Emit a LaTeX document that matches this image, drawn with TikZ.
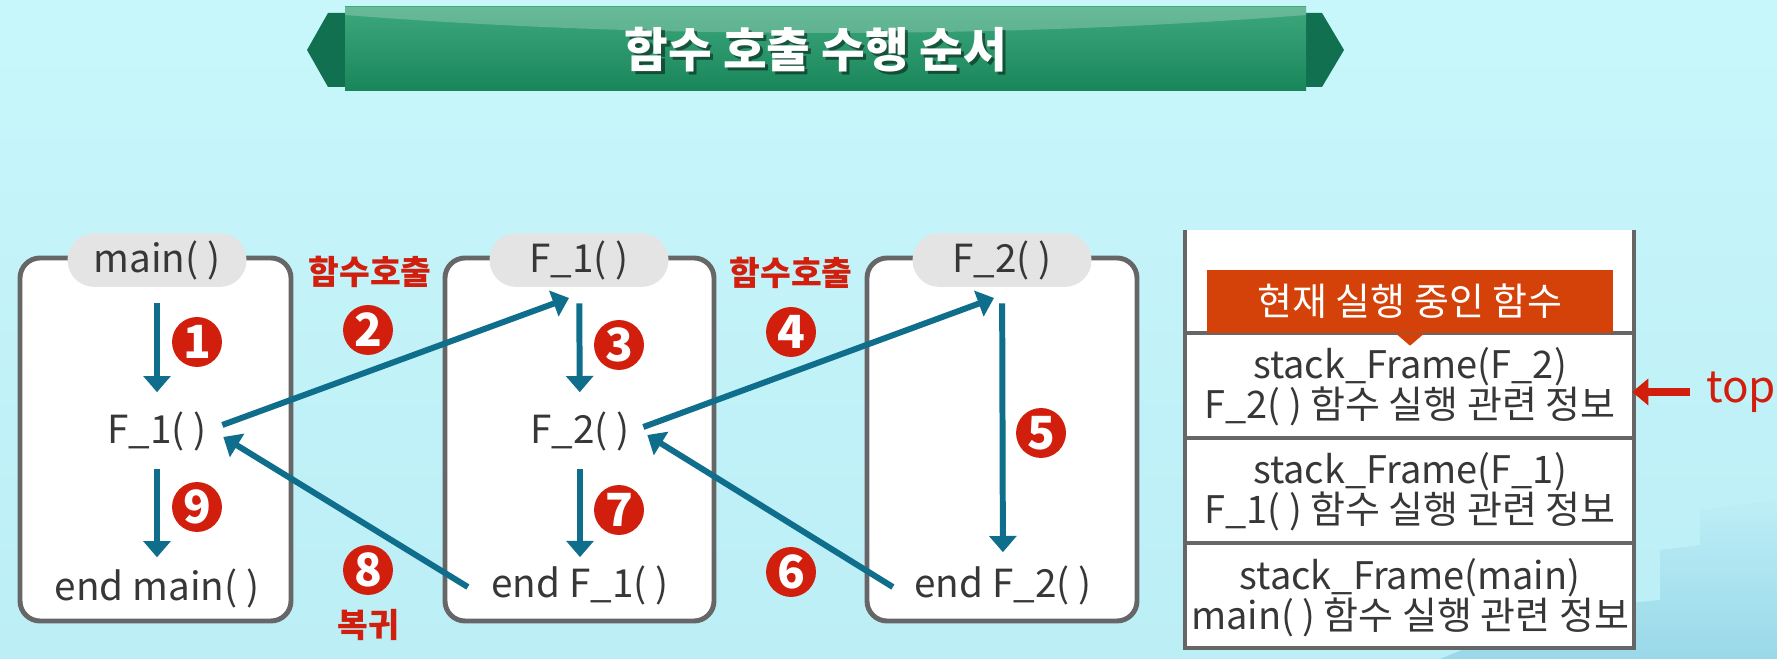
\documentclass[tikz,border=0pt]{standalone}
\usepackage{fontspec}
\setmainfont{Noto Sans CJK KR}
\usetikzlibrary{arrows.meta,calc}
\definecolor{callblue}{RGB}{14,110,140}
\definecolor{stepred}{RGB}{210,30,12}
\definecolor{framegray}{RGB}{102,102,102}
\definecolor{headgray}{RGB}{228,228,228}
\definecolor{textgray}{RGB}{55,55,55}
\definecolor{labelorange}{RGB}{212,66,10}
\definecolor{bannergreen}{RGB}{28,152,102}
\definecolor{bannerdark}{RGB}{16,112,80}
\definecolor{skycyan}{RGB}{200,247,251}
\definecolor{skyblue}{RGB}{188,238,246}
\definecolor{skydeep}{RGB}{140,208,228}

\begin{document}
\begin{tikzpicture}[x=0.01cm, y=-0.01cm,
    funcbox/.style={draw=framegray, line width=1.4pt, fill=white, rounded corners=5.7pt},
    headpill/.style={fill=headgray, rounded corners=7.6pt, minimum width=50.9pt, minimum height=15.3pt,
      inner sep=0pt, text=textgray, font=\fontsize{11}{13}\selectfont},
    functext/.style={text=textgray, inner sep=0pt, text height=8.5pt, text depth=2.5pt,
      font=\fontsize{11}{13}\selectfont},
    flow/.style={draw=callblue, line width=1.7pt, -{Triangle[length=4.6pt,width=7.6pt]}},
    numdot/.style={circle, fill=stepred, text=white, inner sep=0pt, minimum size=14.2pt,
      font=\bfseries\fontsize{13}{13}\selectfont},
    calllabel/.style={text=stepred, font=\bfseries\fontsize{9.5}{11}\selectfont},
    stackline/.style={draw=framegray, line width=1.2pt},
    frametext/.style={align=center, text=textgray, inner sep=0pt, font=\fontsize{10.8}{11.4}\selectfont},
    titletext/.style={text=white, font=\bfseries\fontsize{13.5}{15}\selectfont}]
  \useasboundingbox (0,0) rectangle (1777,659);
  \shade[top color=skycyan, bottom color=skyblue] (0,0) rectangle (1777,659);
  \shade[top color=skyblue, bottom color=skydeep, opacity=0.7] (1777,500) -- (1700,510) -- (1700,545) -- (1660,550)
    -- (1660,600) -- (1560,610) -- (1440,659) -- (1777,659) -- cycle;

  \fill[bannerdark] (307,50) -- (328,13) -- (1322,13) -- (1344,50) -- (1322,87) -- (328,87) -- cycle;
  \shade[top color=bannergreen!85!white, bottom color=bannergreen!88!black] (345,7) rectangle (1306,91);
  \fill[white, opacity=0.22] (345,7) -- (1306,7) -- (1306,15) .. controls (1000,39) and (650,39) .. (345,15) -- cycle;
  \node[titletext, text=black, opacity=0.45] (titleshade) at (819,53) {함수 호출 수행 순서};
  \node[titletext] (title) at (816,50) {함수 호출 수행 순서};

  \draw[funcbox] (20,258) rectangle (291,621);
  \draw[funcbox] (445,258) rectangle (714,621);
  \draw[funcbox] (867,258) rectangle (1137,621);

  \node[headpill] (mainhd) at (157,260) {main( )};
  \node[headpill] (f1hd) at (579,260) {F\_1( )};
  \node[headpill] (f2hd) at (1002,260) {F\_2( )};

  \node[functext] (mcall) at (157,433) {F\_1( )};
  \node[functext] (mend) at (157,590) {end main( )};
  \node[functext] (f1call) at (580,433) {F\_2( )};
  \node[functext] (f1end) at (580,587) {end F\_1( )};
  \node[functext] (f2end) at (1003,587) {end F\_2( )};
  \coordinate (f1in) at (569,298);
  \coordinate (f2in) at (994,298);

  \draw[flow, shorten <=4.5pt, shorten >=5.9pt] (mainhd) -- (mcall);
  \draw[flow, shorten <=4.5pt, shorten >=3.6pt] (mcall) -- (mend);
  \draw[flow, shorten <=4.5pt, shorten >=5.9pt] (f1hd) -- (f1call);
  \draw[flow, shorten <=4.5pt, shorten >=2.8pt] (f1call) -- (f1end);
  \draw[flow, shorten <=4.5pt, shorten >=4.2pt] (f2hd) -- (f2end);
  \draw[flow] ($(mcall.east)+(15,-8)$) -- (f1in);
  \draw[flow] ($(f1call.east)+(13,-6)$) -- (f2in);
  \draw[flow] ($(f2end.west)+(-21,0)$) -- ($(f1call.east)+(17,2)$);
  \draw[flow] ($(f1end.west)+(-23,0)$) -- ($(mcall.east)+(16,4)$);

  \node[numdot] (n1) at (197,342) {1};
  \node[numdot] (n2) at (368,330) {2};
  \node[numdot] (n3) at (619,345) {3};
  \node[numdot] (n4) at (791,332) {4};
  \node[numdot] (n5) at (1041,433) {5};
  \node[numdot] (n6) at (791,572) {6};
  \node[numdot] (n7) at (619,510) {7};
  \node[numdot] (n8) at (368,570) {8};
  \node[numdot] (n9) at (197,507) {9};

  \node[calllabel] (call1) at (370,272) {함수호출};
  \node[calllabel] (call2) at (791,273) {함수호출};
  \node[calllabel] (back) at (368,625) {복귀};

  \fill[white] (1185,230) rectangle (1634,648);
  \draw[stackline] (1185,230) -- (1185,648) -- (1634,648) -- (1634,230);
  \draw[stackline] (1185,333) -- (1634,333);
  \draw[stackline] (1185,438) -- (1634,438);
  \draw[stackline] (1185,543) -- (1634,543);

  \node[fill=labelorange, text=white, minimum width=115.5pt, minimum height=17.9pt, inner sep=0pt,
    font=\fontsize{10.8}{12}\selectfont] (cur) at (1410,301.5) {현재 실행 중인 함수};
  \fill[labelorange] ($(cur.south)+(-14,0)$) -- ($(cur.south)+(0,12)$) -- ($(cur.south)+(14,0)$) -- cycle;

  \node[frametext] (sf2) at (1410,387) {stack\_Frame(F\_2)\\F\_2( ) 함수 실행 관련 정보};
  \node[frametext] (sf1) at (1410,492) {stack\_Frame(F\_1)\\F\_1( ) 함수 실행 관련 정보};
  \node[frametext] (sfm) at (1410,598) {stack\_Frame(main)\\main( ) 함수 실행 관련 정보};

  \node[text=stepred, font=\fontsize{12.5}{14}\selectfont] (top) at (1741,392) {top};
  \draw[stepred, line width=2pt, -{Triangle[length=4.6pt,width=7.4pt]}] ([xshift=-1pt]top.west) -- ++(-58,0);
\end{tikzpicture}
\end{document}
